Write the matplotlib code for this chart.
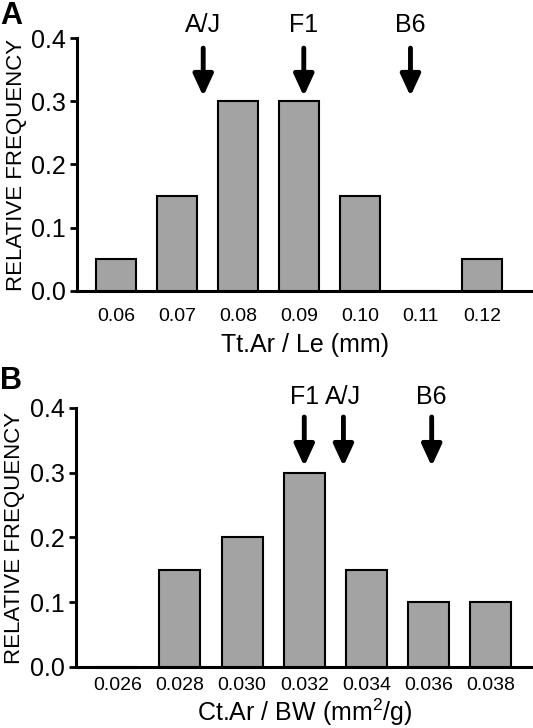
import numpy as np
import matplotlib.pyplot as plt

plt.rcParams['font.family'] = ['Liberation Sans', 'DejaVu Sans']
plt.rcParams['mathtext.fontset'] = 'custom'
plt.rcParams['mathtext.rm'] = 'Liberation Sans'

# panel A: total area / length
bins_a = ['0.06', '0.07', '0.08', '0.09', '0.10', '0.11', '0.12']
freq_a = [0.05, 0.15, 0.30, 0.30, 0.15, 0.0, 0.05]
strains_a = ['A/J', 'F1', 'B6']
means_a = [0.0743, 0.0908, 0.1083]

# panel B: cortical area / body weight
bins_b = ['0.026', '0.028', '0.030', '0.032', '0.034', '0.036', '0.038']
freq_b = [0.0, 0.15, 0.20, 0.30, 0.15, 0.10, 0.10]
strains_b = ['F1', 'A/J', 'B6']
means_b = [0.0320, 0.03326, 0.0361]

bar_color = '#a3a3a3'

fig = plt.figure(figsize=(5.33, 7.28), dpi=100)
ax_a = fig.add_axes([0.1445, 0.6003, 0.8555, 0.3475])
ax_b = fig.add_axes([0.1417, 0.0838, 0.8583, 0.3558])


def draw_panel(ax, bins, freq, strains, means, xlabel, x0, dx, xlim,
               tip, start, lab, tpad, lpad):
    pos = np.arange(len(bins))
    ax.bar(pos, freq, width=0.66, color=bar_color, edgecolor='black', linewidth=1.5, zorder=3)
    ax.set_xlim(*xlim)
    ax.set_ylim(0, 0.4)
    ax.set_yticks([0.0, 0.1, 0.2, 0.3, 0.4])
    ax.set_yticklabels(['0.0', '0.1', '0.2', '0.3', '0.4'])
    ax.set_xticks(pos)
    ax.set_xticklabels(bins)
    ax.tick_params(axis='x', length=0, pad=tpad, labelsize=14)
    ax.tick_params(axis='y', length=5, width=2, pad=3, labelsize=18)
    for s in ['top', 'right']:
        ax.spines[s].set_visible(False)
    ax.spines['left'].set_linewidth(2.2)
    ax.spines['bottom'].set_linewidth(2.2)
    ax.set_xlabel(xlabel, fontsize=18, labelpad=lpad)
    ax.set_ylabel('RELATIVE FREQUENCY', fontsize=16, labelpad=3)
    for name, m in zip(strains, means):
        xp = (m - x0) / dx
        ax.annotate('', xy=(xp, tip), xytext=(xp, start),
                    arrowprops=dict(arrowstyle='-|>,head_width=0.6,head_length=1.3',
                                    color='black', lw=3.5, shrinkA=0, shrinkB=0),
                    annotation_clip=False)
        ax.text(xp, lab, name, ha='center', va='center', fontsize=18, clip_on=False)


draw_panel(ax_a, bins_a, freq_a, strains_a, means_a, 'Tt.Ar / Le (mm)',
           0.06, 0.01, (-0.64, 6.84), 0.308, 0.384, 0.42, 12, 6)
draw_panel(ax_b, bins_b, freq_b, strains_b, means_b, 'Ct.Ar / BW (mm$^2$/g)',
           0.026, 0.002, (-0.68, 6.68), 0.310, 0.386, 0.417, 7, 2)

fig.text(0.0, 0.999, 'A', fontsize=22, fontweight='bold', ha='left', va='top')
fig.text(0.0, 0.497, 'B', fontsize=22, fontweight='bold', ha='left', va='top')

fig.savefig('out.png', dpi=100)
